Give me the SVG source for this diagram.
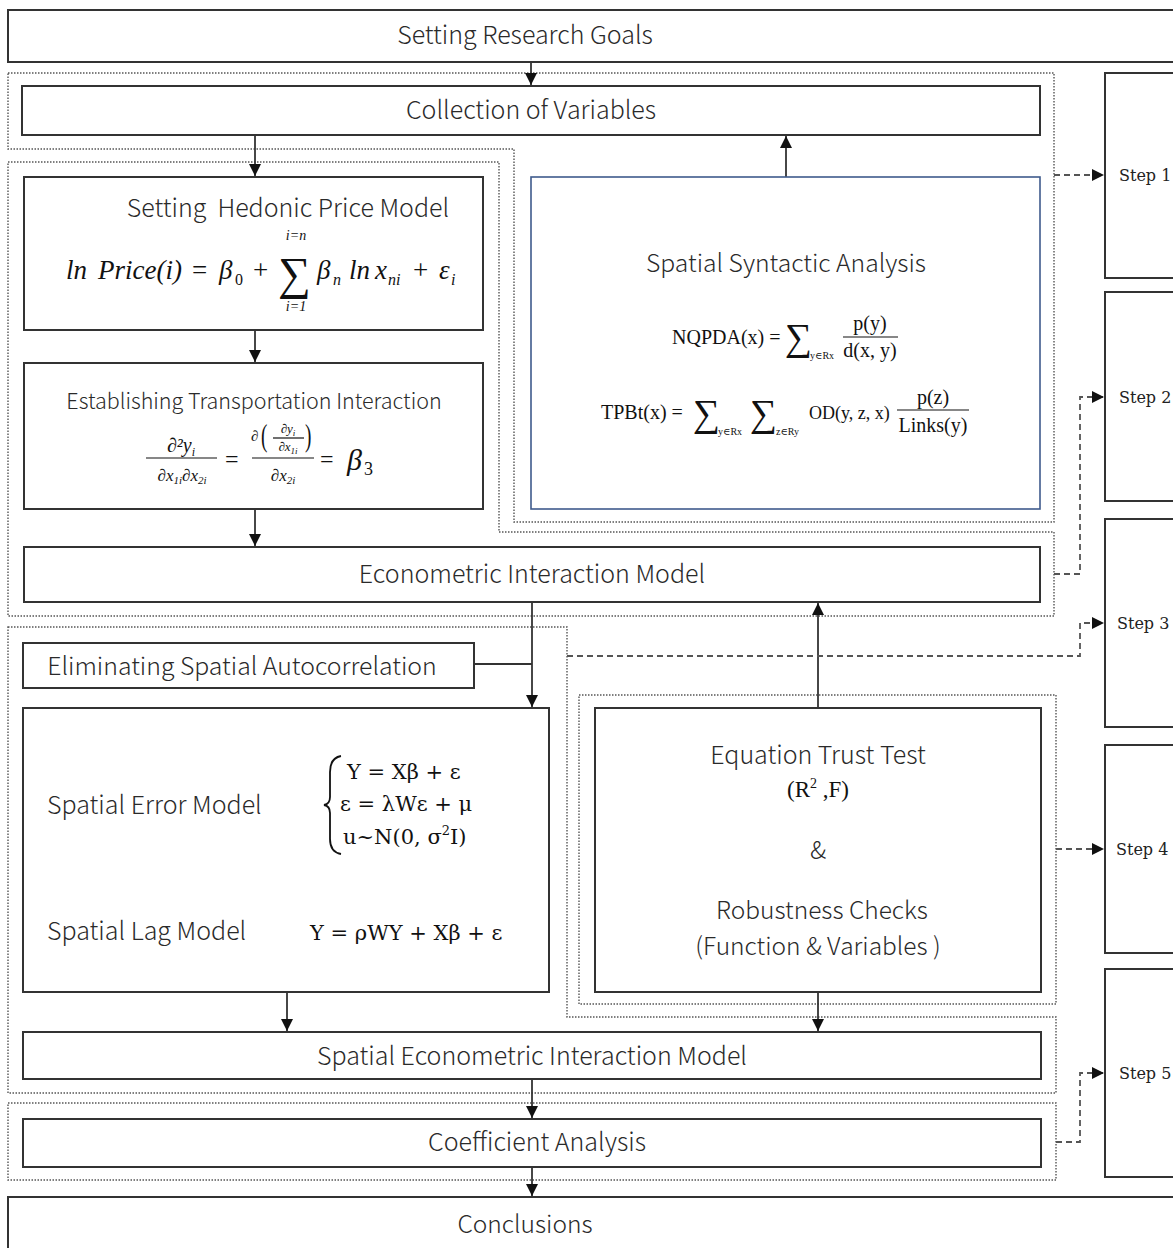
<svg xmlns="http://www.w3.org/2000/svg" width="1173" height="1248" viewBox="0 0 1173 1248">
  <style>
    .box { fill: #ffffff; stroke: #333333; stroke-width: 2; }
    .blue { fill: #ffffff; stroke: #3f5b8c; stroke-width: 1.6; }
    .grp { fill: none; stroke: #555555; stroke-width: 1.4; stroke-dasharray: 1.5 1.5; }
    .flow { fill: none; stroke: #333333; stroke-width: 1.8; }
    .dash { fill: none; stroke: #555555; stroke-width: 1.8; stroke-dasharray: 6 4; }
    .lbl { font-family: "Noto Sans CJK SC", "Noto Sans", sans-serif; font-weight: 300; fill: #2a2a2a; }
    .step { font-family: "DejaVu Serif", "Liberation Serif", serif; font-size: 16px; fill: #222222; }
    .m { font-family: "Liberation Serif", "DejaVu Serif", serif; fill: #111111; }
    .mi { font-family: "Liberation Serif", "DejaVu Serif", serif; font-style: italic; fill: #111111; }
    .md { font-family: "DejaVu Serif", "Liberation Serif", serif; fill: #111111; }
    .bar { stroke: #111111; stroke-width: 1.2; }
  </style>
  <defs>
    <marker id="arrD" viewBox="0 0 10 10" refX="10" refY="5" markerWidth="12" markerHeight="12" markerUnits="userSpaceOnUse" orient="auto">
      <path d="M0,0 L10,5 L0,10 Z" fill="#111111"/>
    </marker>
  </defs>

  <!-- dotted stage groupings -->
  <g id="groups">
    <polygon class="grp" points="8,73 1054,73 1054,522 514,522 514,149 8,149"/>
    <polygon class="grp" points="8,162 499,162 499,532 1054,532 1054,616 8,616"/>
    <polygon class="grp" points="8,627 567,627 567,1017 1056,1017 1056,1093 8,1093"/>
    <rect class="grp" x="579" y="695" width="477" height="309"/>
    <rect class="grp" x="8" y="1103" width="1048" height="77"/>
  </g>

  <!-- connectors -->
  <g id="connectors">
    <line class="flow" x1="531" y1="62" x2="531" y2="85" marker-end="url(#arrD)"/>
    <line class="flow" x1="255" y1="135" x2="255" y2="176" marker-end="url(#arrD)"/>
    <line class="flow" x1="255" y1="330" x2="255" y2="362" marker-end="url(#arrD)"/>
    <line class="flow" x1="255" y1="509" x2="255" y2="546" marker-end="url(#arrD)"/>
    <line class="flow" x1="786" y1="177" x2="786" y2="136" marker-end="url(#arrD)"/>
    <line class="flow" x1="532" y1="602" x2="532" y2="707" marker-end="url(#arrD)"/>
    <line class="flow" x1="474" y1="664" x2="532" y2="664"/>
    <line class="flow" x1="818" y1="708" x2="818" y2="603" marker-end="url(#arrD)"/>
    <line class="flow" x1="287" y1="992" x2="287" y2="1031" marker-end="url(#arrD)"/>
    <line class="flow" x1="818" y1="992" x2="818" y2="1031" marker-end="url(#arrD)"/>
    <line class="flow" x1="532" y1="1079" x2="532" y2="1118" marker-end="url(#arrD)"/>
    <line class="flow" x1="532" y1="1167" x2="532" y2="1196" marker-end="url(#arrD)"/>

    <polyline class="dash" points="1054,175 1104,175" marker-end="url(#arrD)"/>
    <polyline class="dash" points="1054,574 1080,574 1080,397 1104,397" marker-end="url(#arrD)"/>
    <polyline class="dash" points="567,656 1080,656 1080,623 1104,623" marker-end="url(#arrD)"/>
    <polyline class="dash" points="1056,849 1104,849" marker-end="url(#arrD)"/>
    <polyline class="dash" points="1056,1142 1080,1142 1080,1073 1104,1073" marker-end="url(#arrD)"/>
  </g>

  <g id="research-goals">
    <rect class="box" x="8" y="10" width="1180" height="52"/>
    <text class="lbl" x="525" y="44" font-size="25" text-anchor="middle">Setting Research Goals</text>
  </g>

  <g id="collection">
    <rect class="box" x="22" y="86" width="1018" height="49"/>
    <text class="lbl" x="531" y="119" font-size="25" text-anchor="middle">Collection of Variables</text>
  </g>

  <g id="hedonic">
    <rect class="box" x="24" y="177" width="459" height="153"/>
    <text class="lbl" x="288" y="217" font-size="25" text-anchor="middle" xml:space="preserve">Setting  Hedonic Price Model</text>
    <text class="mi" x="66" y="279" font-size="27">ln</text>
    <text class="mi" x="98" y="279" font-size="27">Price(i)</text>
    <text class="m" x="192" y="279" font-size="27">=</text>
    <text class="mi" x="219" y="279" font-size="27">β</text>
    <text class="m" x="235" y="285" font-size="16">0</text>
    <text class="m" x="253" y="279" font-size="27">+</text>
    <text class="m" x="278" y="289" font-size="46">∑</text>
    <text class="mi" x="296" y="240" font-size="14" text-anchor="middle">i=n</text>
    <text class="mi" x="296" y="311" font-size="14" text-anchor="middle">i=1</text>
    <text class="mi" x="317" y="279" font-size="27">β</text>
    <text class="mi" x="333" y="285" font-size="16">n</text>
    <text class="mi" x="349" y="279" font-size="27">ln</text>
    <text class="mi" x="375" y="279" font-size="27">x</text>
    <text class="mi" x="388" y="285" font-size="16">ni</text>
    <text class="m" x="413" y="279" font-size="27">+</text>
    <text class="mi" x="439" y="279" font-size="27">ε</text>
    <text class="mi" x="451" y="285" font-size="16">i</text>
  </g>

  <g id="transport">
    <rect class="box" x="24" y="363" width="459" height="146"/>
    <text class="lbl" x="254" y="409" font-size="21.5" text-anchor="middle">Establishing Transportation Interaction</text>
    <!-- left fraction -->
    <text class="mi" x="181" y="452" font-size="20" text-anchor="middle">∂²y<tspan font-size="12" dy="4">i</tspan></text>
    <line class="bar" x1="146" y1="458" x2="217" y2="458"/>
    <text class="mi" x="182" y="481" font-size="17" text-anchor="middle">∂x<tspan font-size="11" dy="3">1i</tspan><tspan dy="-3">∂x</tspan><tspan font-size="11" dy="3">2i</tspan></text>
    <text class="m" x="225" y="467" font-size="24">=</text>
    <!-- right fraction -->
    <text class="mi" x="251" y="441" font-size="15">∂</text>
    <text class="m" x="261" y="446" font-size="32" transform="translate(261 446) scale(0.6 1) translate(-261 -446)">(</text>
    <text class="mi" x="288" y="433" font-size="13" text-anchor="middle">∂y<tspan font-size="9" dy="3">i</tspan></text>
    <line class="bar" x1="273" y1="438" x2="304" y2="438"/>
    <text class="mi" x="288" y="451" font-size="13" text-anchor="middle">∂x<tspan font-size="9" dy="3">1i</tspan></text>
    <text class="m" x="305" y="446" font-size="32" transform="translate(305 446) scale(0.6 1) translate(-305 -446)">)</text>
    <line class="bar" x1="252" y1="458" x2="314" y2="458"/>
    <text class="mi" x="283" y="481" font-size="17" text-anchor="middle">∂x<tspan font-size="11" dy="3">2i</tspan></text>
    <text class="m" x="320" y="467" font-size="24">=</text>
    <text class="mi" x="347" y="470" font-size="30">β</text>
    <text class="m" x="364" y="475" font-size="18">3</text>
  </g>

  <g id="space-syntax">
    <rect class="blue" x="531" y="177" width="509" height="332"/>
    <text class="lbl" x="786" y="272" font-size="24.7" text-anchor="middle">Spatial Syntactic Analysis</text>
    <!-- NQPDA -->
    <text class="m" x="672" y="344" font-size="20">NQPDA(x) =</text>
    <text class="m" x="785" y="350" font-size="38">∑</text>
    <text class="m" x="810" y="359" font-size="10">y∈Rx</text>
    <text class="m" x="870" y="330" font-size="20" text-anchor="middle">p(y)</text>
    <line class="bar" x1="843" y1="337" x2="898" y2="337"/>
    <text class="m" x="870" y="357" font-size="20" text-anchor="middle">d(x, y)</text>
    <!-- TPBt -->
    <text class="m" x="601" y="419" font-size="20">TPBt(x) =</text>
    <text class="m" x="693" y="426" font-size="38">∑</text>
    <text class="m" x="718" y="435" font-size="10">y∈Rx</text>
    <text class="m" x="750" y="426" font-size="38">∑</text>
    <text class="m" x="776" y="435" font-size="10">z∈Ry</text>
    <text class="m" x="809" y="419" font-size="18">OD(y, z, x)</text>
    <text class="m" x="933" y="404" font-size="20" text-anchor="middle">p(z)</text>
    <line class="bar" x1="897" y1="410" x2="969" y2="410"/>
    <text class="m" x="933" y="432" font-size="20" text-anchor="middle">Links(y)</text>
  </g>

  <g id="econometric">
    <rect class="box" x="24" y="547" width="1016" height="55"/>
    <text class="lbl" x="532" y="583" font-size="25" text-anchor="middle">Econometric Interaction Model</text>
  </g>

  <g id="autocorrelation">
    <rect class="box" x="23" y="643" width="451" height="45"/>
    <text class="lbl" x="242" y="675" font-size="24.8" text-anchor="middle">Eliminating Spatial Autocorrelation</text>
  </g>

  <g id="spatial-models">
    <rect class="box" x="23" y="708" width="526" height="284"/>
    <text class="lbl" x="47" y="814" font-size="25">Spatial Error Model</text>
    <path d="M341,756 Q330,758 330,772 L330,797 Q330,804 324,805 Q330,806 330,813 L330,839 Q330,852 341,854" fill="none" stroke="#111111" stroke-width="1.8"/>
    <text class="md" x="347" y="779" font-size="21">Y = Xβ + ε</text>
    <text class="md" x="340" y="811" font-size="21">ε = λWε + μ</text>
    <text class="md" x="343" y="844" font-size="21">u~N(0, σ<tspan font-size="13" dy="-9">2</tspan><tspan dy="9">I)</tspan></text>
    <text class="lbl" x="47" y="940" font-size="25">Spatial Lag Model</text>
    <text class="md" x="310" y="940" font-size="21">Y = ρWY + Xβ + ε</text>
  </g>

  <g id="trust-tests">
    <rect class="box" x="595" y="708" width="446" height="284"/>
    <text class="lbl" x="818" y="764" font-size="25" text-anchor="middle">Equation Trust Test</text>
    <text class="m" x="818" y="797" font-size="23" text-anchor="middle">(R<tspan font-size="14" dy="-9">2</tspan><tspan dy="9"> ,F)</tspan></text>
    <text class="lbl" x="818" y="859" font-size="25" text-anchor="middle">&amp;</text>
    <text class="lbl" x="822" y="919" font-size="24.5" text-anchor="middle">Robustness Checks</text>
    <text class="lbl" x="818" y="955" font-size="24.5" text-anchor="middle">(Function &amp; Variables )</text>
  </g>

  <g id="spatial-econometric">
    <rect class="box" x="23" y="1032" width="1018" height="47"/>
    <text class="lbl" x="532" y="1065" font-size="25" text-anchor="middle">Spatial Econometric Interaction Model</text>
  </g>

  <g id="coefficients">
    <rect class="box" x="23" y="1119" width="1018" height="48"/>
    <text class="lbl" x="537" y="1151" font-size="25" text-anchor="middle">Coefficient Analysis</text>
  </g>

  <g id="conclusions">
    <rect class="box" x="8" y="1197" width="1180" height="70"/>
    <text class="lbl" x="525" y="1233" font-size="24.5" text-anchor="middle">Conclusions</text>
  </g>

  <g id="step-1">
    <rect class="box" x="1105" y="73" width="90" height="205"/>
    <text class="step" x="1119" y="181">Step 1</text>
  </g>
  <g id="step-2">
    <rect class="box" x="1105" y="292" width="90" height="209"/>
    <text class="step" x="1119" y="403">Step 2</text>
  </g>
  <g id="step-3">
    <rect class="box" x="1105" y="519" width="90" height="208"/>
    <text class="step" x="1117" y="629">Step 3</text>
  </g>
  <g id="step-4">
    <rect class="box" x="1105" y="745" width="90" height="208"/>
    <text class="step" x="1116" y="855">Step 4</text>
  </g>
  <g id="step-5">
    <rect class="box" x="1105" y="969" width="90" height="208"/>
    <text class="step" x="1119" y="1079">Step 5</text>
  </g>
</svg>
